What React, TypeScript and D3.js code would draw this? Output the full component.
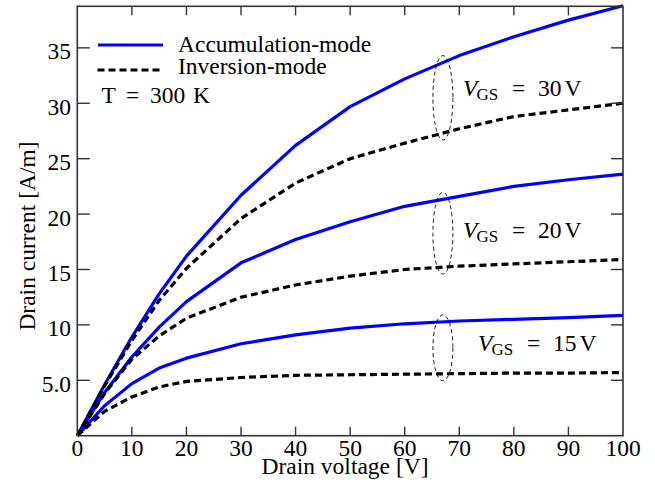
import React from "react";
import * as d3 from "d3";

const drainVoltage = [0, 5, 10, 15, 20, 30, 40, 50, 60, 70, 80, 90, 100];
const acc30 = [0, 4.6, 8.9, 12.8, 16.2, 21.7, 26.2, 29.7, 32.2, 34.3, 36.0, 37.5, 38.8];
const inv30 = [0, 4.5, 8.6, 12.2, 15.1, 19.6, 22.8, 25.0, 26.4, 27.7, 28.8, 29.4, 30.0];
const acc20 = [0, 3.9, 7.1, 9.8, 12.1, 15.6, 17.7, 19.3, 20.7, 21.6, 22.5, 23.1, 23.6];
const inv20 = [0, 3.8, 6.9, 9.0, 10.6, 12.5, 13.6, 14.4, 15.0, 15.3, 15.5, 15.7, 15.9];
const acc15 = [0, 2.7, 4.7, 6.1, 7.0, 8.3, 9.1, 9.7, 10.1, 10.35, 10.5, 10.65, 10.85];
const inv15 = [0, 2.2, 3.5, 4.4, 4.9, 5.25, 5.45, 5.5, 5.55, 5.6, 5.65, 5.65, 5.7];

const gateLabels = ["30", "20", "15"];
const xTicks = [0, 10, 20, 30, 40, 50, 60, 70, 80, 90, 100];
const yTicks = [5, 10, 15, 20, 25, 30, 35];
const yTickLabels = ["5.0", "10", "15", "20", "25", "30", "35"];
const legendLabels = ["Accumulation-mode", "Inversion-mode"];
const ellipseX = 67;

const W = 655, H = 485;
const L = 77.3, R = 623, T = 6.3, B = 435.7;
const FONT = "'Liberation Serif', 'Times New Roman', serif";
const FS = 23.5;

export default function App() {
  const x = d3.scaleLinear().domain([0, 100]).range([L, R]);
  const y = d3.scaleLinear().domain([0, 38.75]).range([B, T]);
  const line = d3
    .line<number>()
    .x((_, i) => x(drainVoltage[i]))
    .y((d) => y(d));
  const interp = (arr: number[], v: number) => {
    const i = d3.bisectRight(drainVoltage, v) - 1;
    const t = (v - drainVoltage[i]) / (drainVoltage[i + 1] - drainVoltage[i]);
    return arr[i] + t * (arr[i + 1] - arr[i]);
  };
  const pairs = [
    [acc30, inv30],
    [acc20, inv20],
    [acc15, inv15],
  ];
  const labelDy = [-1.5, 4.5, 3.5];
  const labelDx = [20, 20, 35];
  const blue = "#0000ff";
  const axisColor = "#333";

  return (
    <svg
      width={W}
      height={H}
      style={{ position: "absolute", left: 0, top: 0, background: "#fff" }}
      fontFamily={FONT}
    >
      <rect x={0} y={0} width={W} height={H} fill="#fff" />
      {pairs.map(([a], k) => (
        <path key={"a" + k} d={line(a) || ""} fill="none" stroke={blue} strokeWidth={3.2} strokeLinejoin="round" />
      ))}
      {pairs.map(([, b], k) => (
        <path key={"b" + k} d={line(b) || ""} fill="none" stroke="#000" strokeWidth={3.2} strokeDasharray="7,4" />
      ))}
      {pairs.map(([a, b], k) => {
        const ya = y(interp(a, ellipseX));
        const yb = y(interp(b, ellipseX));
        const cy = (ya + yb) / 2;
        const ry = Math.abs(yb - ya) / 2 + 7;
        const cx = x(ellipseX);
        const lx = cx + labelDx[k];
        const by = cy + labelDy[k];
        return (
          <g key={"e" + k}>
            <ellipse cx={cx} cy={cy} rx={10} ry={ry} fill="none" stroke="#000" strokeWidth={0.9} strokeDasharray="4,3" />
            <text y={by} fontSize={FS} fill="#000">
              <tspan x={lx} fontStyle="italic">V</tspan>
              <tspan x={lx + 13.5} dy={4} fontSize={17}>GS</tspan>
              <tspan x={lx + 49} dy={-4}>=</tspan>
              <tspan x={lx + 75}>{gateLabels[k]}</tspan>
              <tspan x={lx + 101.5}>V</tspan>
            </text>
          </g>
        );
      })}
      <rect x={L} y={T} width={R - L} height={B - T} fill="none" stroke={axisColor} strokeWidth={1.6} />
      {xTicks.map((t) => (
        <g key={"xt" + t}>
          {t > 0 && t < 100 && (
            <>
              <line x1={x(t)} x2={x(t)} y1={B} y2={B - 9} stroke={axisColor} strokeWidth={1.4} />
              <line x1={x(t)} x2={x(t)} y1={T} y2={T + 9} stroke={axisColor} strokeWidth={1.4} />
            </>
          )}
          <text x={x(t)} y={456} fontSize={FS} textAnchor="middle" fill="#000">
            {t}
          </text>
        </g>
      ))}
      {yTicks.map((t, i) => (
        <g key={"yt" + t}>
          <line x1={L} x2={L + 12.5} y1={y(t)} y2={y(t)} stroke={axisColor} strokeWidth={1.4} />
          <line x1={R} x2={R - 12} y1={y(t)} y2={y(t)} stroke={axisColor} strokeWidth={1.4} />
          <text x={71} y={y(t) + 11.5} fontSize={FS} textAnchor="end" fill="#000">
            {yTickLabels[i]}
          </text>
        </g>
      ))}
      <text x={345} y={473.5} fontSize={FS} textAnchor="middle" fill="#000">
        Drain voltage [V]
      </text>
      <text
        transform="translate(35,236) rotate(-90)"
        fontSize={FS}
        textAnchor="middle"
        fill="#000"
      >
        Drain current [A/m]
      </text>
      <line x1={98} x2={163} y1={45} y2={45} stroke={blue} strokeWidth={3.2} />
      <text x={178} y={52} fontSize={FS} fill="#000">
        {legendLabels[0]}
      </text>
      <line x1={97.5} x2={163} y1={70} y2={70} stroke="#000" strokeWidth={3.2} strokeDasharray="7,4" />
      <text x={178} y={73.5} fontSize={FS} fill="#000">
        {legendLabels[1]}
      </text>
      <text y={103} fontSize={FS} fill="#000">
        <tspan x={101.5}>T</tspan>
        <tspan x={126}>=</tspan>
        <tspan x={150}>300</tspan>
        <tspan x={193}>K</tspan>
      </text>
    </svg>
  );
}
